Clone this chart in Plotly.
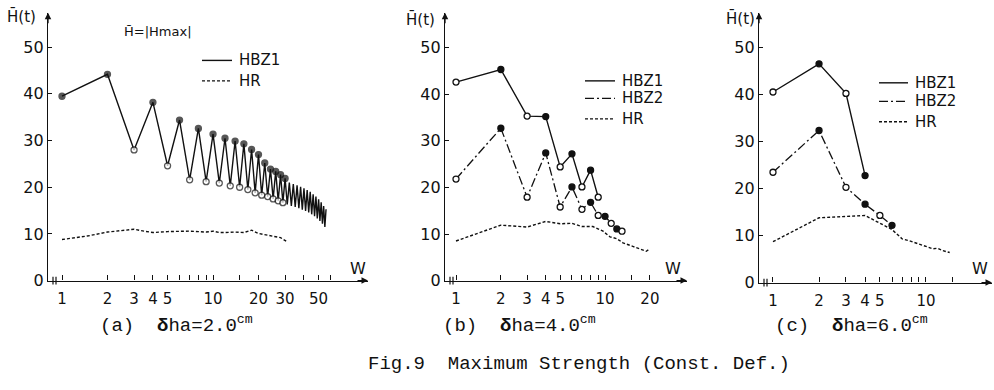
import plotly.graph_objects as go

# ---------------- data ----------------
# (a) dha = 2.0 cm
a_w = list(range(1, 57))
a_hbz1 = [39.5, 44.2, 28.0, 38.2, 24.6, 34.4, 21.6, 32.6, 21.2, 31.4,
          20.9, 30.5, 20.3, 29.9, 20.0, 29.3, 19.5, 28.1, 18.8, 27.0,
          18.3, 25.2, 18.0, 23.9, 17.5, 23.4, 17.1, 22.7, 16.7, 21.9,
          16.3, 21.0, 16.0, 20.7, 15.8, 20.4, 15.5, 20.1, 15.2, 19.8,
          14.9, 19.4, 14.6, 19.0, 14.2, 18.5, 13.8, 18.0, 13.3, 17.4,
          12.8, 16.8, 12.2, 16.0, 11.5, 15.3]
a_hr_w = [1, 1.5, 2, 2.5, 3, 3.5, 4, 5, 6, 7, 8, 9, 10, 11, 12, 14, 16, 18, 20, 22, 25, 28, 31]
a_hr = [8.8, 9.6, 10.4, 10.7, 11.0, 10.6, 10.3, 10.5, 10.6, 10.6, 10.5, 10.4, 10.6, 10.3,
        10.3, 10.4, 10.3, 10.8, 10.1, 9.9, 9.5, 9.2, 8.3]

# (b) dha = 4.0 cm
b_w1 = [1, 2, 3, 4, 5, 6, 7, 8, 9]
b_hbz1 = [42.6, 45.3, 35.3, 35.2, 24.4, 27.2, 20.1, 23.7, 17.9]
b_w2 = [1, 2, 3, 4, 5, 6, 7, 8, 9, 10, 11, 12, 13]
b_hbz2 = [21.8, 32.7, 17.9, 27.4, 15.8, 20.1, 15.3, 16.8, 14.0, 13.8, 12.3, 11.1, 10.6]
b_hr_w = [1, 2, 3, 4, 5, 6, 7, 8.3, 9.7, 10.8, 12, 13.2, 15.5, 18, 18.9, 19.8]
b_hr = [8.5, 11.9, 11.5, 12.7, 12.2, 12.3, 11.6, 11.6, 10.6, 9.4, 9.0, 8.1, 7.3, 6.6, 6.3, 6.7]

# (c) dha = 6.0 cm
c_w1 = [1, 2, 3, 4]
c_hbz1 = [40.6, 46.6, 40.3, 22.8]
c_w2 = [1, 2, 3, 4, 5, 6]
c_hbz2 = [23.5, 32.4, 20.3, 16.7, 14.3, 12.2]
c_hr_w = [1, 2, 4, 5, 6, 7, 7.8, 9.6, 11.1, 11.9, 12.9, 14.3]
c_hr = [8.7, 13.8, 14.3, 12.6, 11.3, 9.3, 8.9, 7.9, 7.2, 7.3, 6.8, 6.4]

y_ticks = [0, 10, 20, 30, 40, 50]
a_xticks = [1, 2, 3, 4, 5, 6, 7, 8, 9, 10, 15, 20, 30, 40, 50, 60]
a_xlabels = ["1", "2", "3", "4", "5", "", "", "", "", "10", "", "20", "30", "", "50", ""]
b_xticks = [1, 2, 3, 4, 5, 6, 7, 8, 9, 10, 15, 20]
b_xlabels = ["1", "2", "3", "4", "5", "", "", "", "", "10", "", "20"]
c_xticks = [1, 2, 3, 4, 5, 6, 7, 8, 9, 10, 15]
c_xlabels = ["1", "2", "3", "4", "5", "", "", "", "", "10", ""]

legend_a = ["HBZ1", "HR"]
legend_bc = ["HBZ1", "HBZ2", "HR"]
captions = ["(a)  <b>δ</b>ha=2.0<sup>cm</sup>", "(b)  <b>δ</b>ha=4.0<sup>cm</sup>", "(c)  <b>δ</b>ha=6.0<sup>cm</sup>"]
fig_title = "Fig.9  Maximum Strength (Const. Def.)"

# ---------------- styling ----------------
W, H = 994, 390
INK = "#111111"
XTICKFONT = dict(family="DejaVu Sans", size=15, color=INK)
YTICKFONT = dict(family="DejaVu Sans", size=16, color=INK)
DASH_HR = "3px,2px"
DASH_B2 = "9px,3px,2px,3px"


def px(x):
    return x / W


def py(y):
    return 1 - y / H


def marker_style(n):
    cols = ["white" if i % 2 == 0 else INK for i in range(n)]
    return dict(symbol="circle", size=6, color=cols, line=dict(color=INK, width=1.3))


def text_ann(x, y, text, size, family="DejaVu Sans", xanchor="center"):
    return dict(xref="paper", yref="paper", x=px(x), y=py(y), text=text, showarrow=False,
                xanchor=xanchor, yanchor="middle",
                font=dict(family=family, size=size, color=INK))


fig = go.Figure()

# panel a
a_sizes = [6 if w <= 30 else 0 for w in a_w]
a_cols = [INK if (w <= 2 or w % 2 == 0) else "white" for w in a_w]
fig.add_trace(go.Scatter(x=a_w, y=a_hbz1, mode="lines+markers", xaxis="x", yaxis="y",
                         line=dict(color=INK, width=1.4),
                         marker=dict(symbol="circle", size=a_sizes, color=a_cols,
                                     line=dict(color=INK, width=1.3))))
fig.add_trace(go.Scatter(x=a_hr_w, y=a_hr, mode="lines", xaxis="x", yaxis="y",
                         line=dict(color=INK, width=1.4, dash=DASH_HR)))

# panel b
fig.add_trace(go.Scatter(x=b_w1, y=b_hbz1, mode="lines+markers", xaxis="x2", yaxis="y2",
                         line=dict(color=INK, width=1.4), marker=marker_style(len(b_w1))))
fig.add_trace(go.Scatter(x=b_w2, y=b_hbz2, mode="lines+markers", xaxis="x2", yaxis="y2",
                         line=dict(color=INK, width=1.3, dash=DASH_B2),
                         marker=marker_style(len(b_w2))))
fig.add_trace(go.Scatter(x=b_hr_w, y=b_hr, mode="lines", xaxis="x2", yaxis="y2",
                         line=dict(color=INK, width=1.4, dash=DASH_HR)))

# panel c
fig.add_trace(go.Scatter(x=c_w1, y=c_hbz1, mode="lines+markers", xaxis="x3", yaxis="y3",
                         line=dict(color=INK, width=1.4), marker=marker_style(len(c_w1))))
fig.add_trace(go.Scatter(x=c_w2, y=c_hbz2, mode="lines+markers", xaxis="x3", yaxis="y3",
                         line=dict(color=INK, width=1.3, dash=DASH_B2),
                         marker=marker_style(len(c_w2))))
fig.add_trace(go.Scatter(x=c_hr_w, y=c_hr, mode="lines", xaxis="x3", yaxis="y3",
                         line=dict(color=INK, width=1.4, dash=DASH_HR)))

panels = [
    dict(l=48, r=368, y0=288, yt=13, xr=[-0.0927, 2.026], tv=a_xticks, tt=a_xlabels, ymax=57.4),
    dict(l=445, r=687, y0=288, yt=13, xr=[-0.0738, 1.550], tv=b_xticks, tt=b_xlabels, ymax=57.5),
    dict(l=759, r=992, y0=290, yt=13, xr=[-0.0915, 1.432], tv=c_xticks, tt=c_xlabels, ymax=57.5),
]

layout = dict(width=W, height=H, margin=dict(l=0, r=0, t=0, b=0),
              paper_bgcolor="white", plot_bgcolor="white", showlegend=False)
for i, p in enumerate(panels):
    s = "" if i == 0 else str(i + 1)
    layout["xaxis" + s] = dict(type="log", range=p["xr"], domain=[px(p["l"]), px(p["r"])],
                               anchor="y" + s, showgrid=False, zeroline=False,
                               showline=True, linecolor=INK, linewidth=1.4,
                               ticks="inside", ticklen=5, tickwidth=1.2, tickcolor=INK,
                               tickvals=p["tv"], ticktext=p["tt"], tickfont=XTICKFONT,
                               ticklabelstandoff=4)
    layout["yaxis" + s] = dict(range=[0, p["ymax"]], domain=[py(p["y0"]), py(p["yt"])],
                               anchor="x" + s, showgrid=False, zeroline=False,
                               showline=True, linecolor=INK, linewidth=1.4,
                               ticks="inside", ticklen=4, tickwidth=1.2, tickcolor=INK,
                               tickvals=y_ticks, tickfont=YTICKFONT)
fig.update_layout(**layout)

anns = []
shapes = []
for i, p in enumerate(panels):
    anns.append(dict(xref="paper", yref="paper", x=px(p["r"]), y=py(p["y0"]), ax=-12, ay=0,
                     text="", showarrow=True, arrowhead=2, arrowsize=1, arrowwidth=1.3,
                     arrowcolor=INK))
    anns.append(dict(xref="paper", yref="paper", x=px(p["l"]), y=py(p["yt"]), ax=0, ay=12,
                     text="", showarrow=True, arrowhead=2, arrowsize=1, arrowwidth=1.3,
                     arrowcolor=INK))
    for dx in (5, 8):
        shapes.append(dict(type="line", xref="paper", yref="paper",
                           x0=px(p["l"] + dx), x1=px(p["l"] + dx),
                           y0=py(p["y0"] + 4), y1=py(p["y0"] - 4),
                           line=dict(color=INK, width=1.2)))

for xw in (358, 673, 980):
    anns.append(text_ann(xw, 276, "W", 16))
for xw, yw in ((21, 17), (420, 20), (740, 19)):
    anns.append(text_ann(xw, yw, "H\u0304(t)", 15))
anns.append(text_ann(122, 32, "H\u0304=|Hmax|", 13, xanchor="left"))

leg_specs = [
    (202, 232, [62, 83], legend_a, ["solid", DASH_HR]),
    (585, 615, [83, 101, 122], legend_bc, ["solid", DASH_B2, DASH_HR]),
    (879, 908, [85, 104, 125], legend_bc, ["solid", DASH_B2, DASH_HR]),
]
for x0, x1, ys, names, dashes in leg_specs:
    for yy, nm, ds in zip(ys, names, dashes):
        shapes.append(dict(type="line", xref="paper", yref="paper", x0=px(x0), x1=px(x1),
                           y0=py(yy), y1=py(yy), line=dict(color=INK, width=1.4, dash=ds)))
        anns.append(text_ann(x1 + 5, yy, nm, 15, xanchor="left"))

for xc, cap in zip((98, 441, 773), captions):
    anns.append(text_ann(xc, 333, cap, 19, family="Liberation Mono", xanchor="left"))
anns.append(text_ann(366, 374, fig_title, 19, family="Liberation Mono", xanchor="left"))

fig.update_layout(annotations=anns, shapes=shapes)
fig.write_html("out.html", config={"displayModeBar": False},
               post_script="document.body.style.margin='0';document.body.style.overflow='hidden';")
